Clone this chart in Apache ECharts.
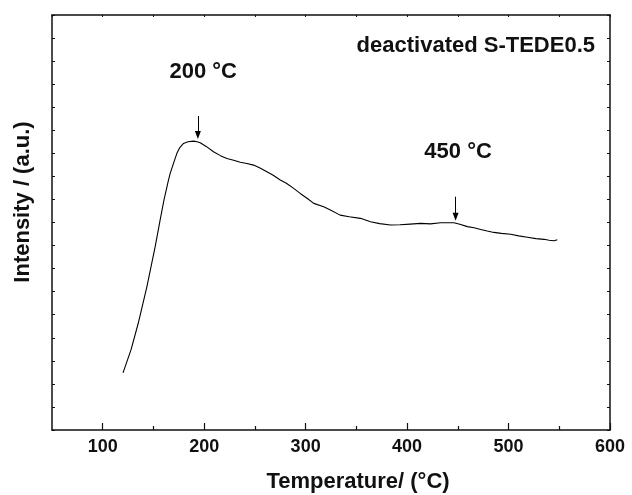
<!DOCTYPE html>
<html>
<head>
<meta charset="utf-8">
<script src="https://cdn.jsdelivr.net/npm/echarts@6/dist/echarts.min.js"></script>
<style>html,body{margin:0;padding:0;background:#fff;}#c{width:632px;height:495px;}</style>
</head>
<body>
<div id="c"></div>
<script>
// Temperature (°C) and intensity (a.u.)
const temperature = [120,128,135,143.5,151.7,156.6,160.5,164.8,166.5,170,173.1,176,179.6,184,189.5,193,196.1,202,209.2,216,222.4,229,235.6,242,248.7,255,261.8,268,275,281,288.2,295,301.4,308,317.8,324.4,334,343,354,363.9,373,383.7,393,403,413.3,423,433,446.2,452,459.4,466,472.5,479,485.6,493,502.1,510,518.6,527,535,540,544.9,548];
const intensity = [2.48,3.5,4.63,6.21,7.95,9.11,10.0,10.84,11.13,11.6,12.0,12.25,12.43,12.5,12.53,12.5,12.46,12.3,12.07,11.9,11.78,11.7,11.61,11.56,11.49,11.36,11.2,11.05,10.84,10.7,10.48,10.25,10.05,9.83,9.68,9.54,9.32,9.25,9.18,9.03,8.95,8.89,8.9,8.93,8.96,8.94,8.99,8.99,8.92,8.82,8.77,8.7,8.63,8.57,8.53,8.49,8.42,8.36,8.3,8.27,8.23,8.21,8.25];
const xMajorTicks = [100,200,300,400,500,600];
const xMinorTicks = [150,250,350,450,550];
// Peak annotations: arrow x, arrow top, arrow bottom, label position
const peakLabels = ['200 °C','450 °C'];
const peakArrowX = [193.8, 447.8];
const peakArrowTop = [13.62, 10.12];
const peakArrowBottom = [12.79, 9.25];
const peakLabelX = [199, 450.3];
const peakLabelY = [15.52, 12.07];
const sampleName = 'deactivated S-TEDE0.5';
const xTitle = 'Temperature/ (°C)';
const yTitle = 'Intensity / (a.u.)';

const FONT = 'Liberation Sans, Arial, Helvetica, sans-serif';
const chart = echarts.init(document.getElementById('c'));
const ink = '#111';

const lineData = temperature.map((t, i) => [t, intensity[i]]);
const arrowLines = peakArrowX.map((x, i) => [
  {coord: [x, peakArrowTop[i]]},
  {coord: [x, peakArrowBottom[i]]}
]);
const labelPoints = peakLabels.map((s, i) => ({
  coord: [peakLabelX[i], peakLabelY[i]], value: s
}));

chart.setOption({
  animation: false,
  backgroundColor: '#fff',
  grid: {left: 52, right: 22, top: 15, bottom: 65},
  xAxis: [
    {
      type: 'value', position: 'bottom', min: 50, max: 600, interval: 50,
      axisLine: {lineStyle: {color: ink, width: 1.5}},
      axisTick: {inside: true, length: 7, customValues: xMajorTicks, lineStyle: {color: ink, width: 1.2}},
      axisLabel: {customValues: xMajorTicks, fontSize: 18, fontWeight: 'bold', color: ink, fontFamily: FONT, margin: 8},
      splitLine: {show: false}
    },
    {
      type: 'value', position: 'bottom', min: 50, max: 600, interval: 50,
      axisLine: {show: false},
      axisTick: {inside: true, length: 4, customValues: xMinorTicks, lineStyle: {color: ink, width: 1.2}},
      axisLabel: {show: false},
      splitLine: {show: false}
    },
    {
      type: 'value', position: 'top', min: 50, max: 600, interval: 50,
      axisLine: {lineStyle: {color: ink, width: 1.5}},
      axisTick: {inside: true, length: 2, lineStyle: {color: ink, width: 1}},
      axisLabel: {show: false},
      splitLine: {show: false}
    }
  ],
  yAxis: [
    {
      type: 'value', position: 'left', min: 0, max: 18, interval: 1,
      axisLine: {show: true, lineStyle: {color: ink, width: 1.5}},
      axisTick: {show: true, inside: true, length: 3, lineStyle: {color: ink, width: 1}},
      axisLabel: {show: false},
      splitLine: {show: false}
    },
    {
      type: 'value', position: 'right', min: 0, max: 18, interval: 1,
      axisLine: {show: true, lineStyle: {color: ink, width: 1.5}},
      axisTick: {show: true, inside: true, length: 3, lineStyle: {color: ink, width: 1}},
      axisLabel: {show: false},
      splitLine: {show: false}
    }
  ],
  series: [{
    type: 'line',
    data: lineData,
    xAxisIndex: 0, yAxisIndex: 0,
    showSymbol: false,
    smooth: false,
    lineStyle: {color: '#000', width: 1.1},
    markLine: {
      silent: true,
      symbol: ['none', 'triangle'],
      symbolSize: [6, 8],
      symbolRotate: 180,
      label: {show: false},
      lineStyle: {color: '#000', width: 1, type: 'solid'},
      data: arrowLines
    },
    markPoint: {
      silent: true,
      symbol: 'circle', symbolSize: 0,
      label: {show: true, position: 'inside', formatter: p => p.value, fontSize: 22, fontWeight: 'bold', color: ink, fontFamily: FONT},
      data: labelPoints
    }
  }],
  graphic: [
    {type: 'text', right: 37, top: 35, style: {text: sampleName, fontSize: 22, fontWeight: 'bold', fill: ink, fontFamily: FONT}},
    {type: 'text', x: 358, y: 482, style: {text: xTitle, fontSize: 22, fontWeight: 'bold', fill: ink, fontFamily: FONT, align: 'center', verticalAlign: 'middle'}},
    {type: 'text', x: 23, y: 202, rotation: Math.PI / 2, style: {text: yTitle, fontSize: 22, fontWeight: 'bold', fill: ink, fontFamily: FONT, align: 'center', verticalAlign: 'middle'}}
  ]
});
</script>
</body>
</html>
